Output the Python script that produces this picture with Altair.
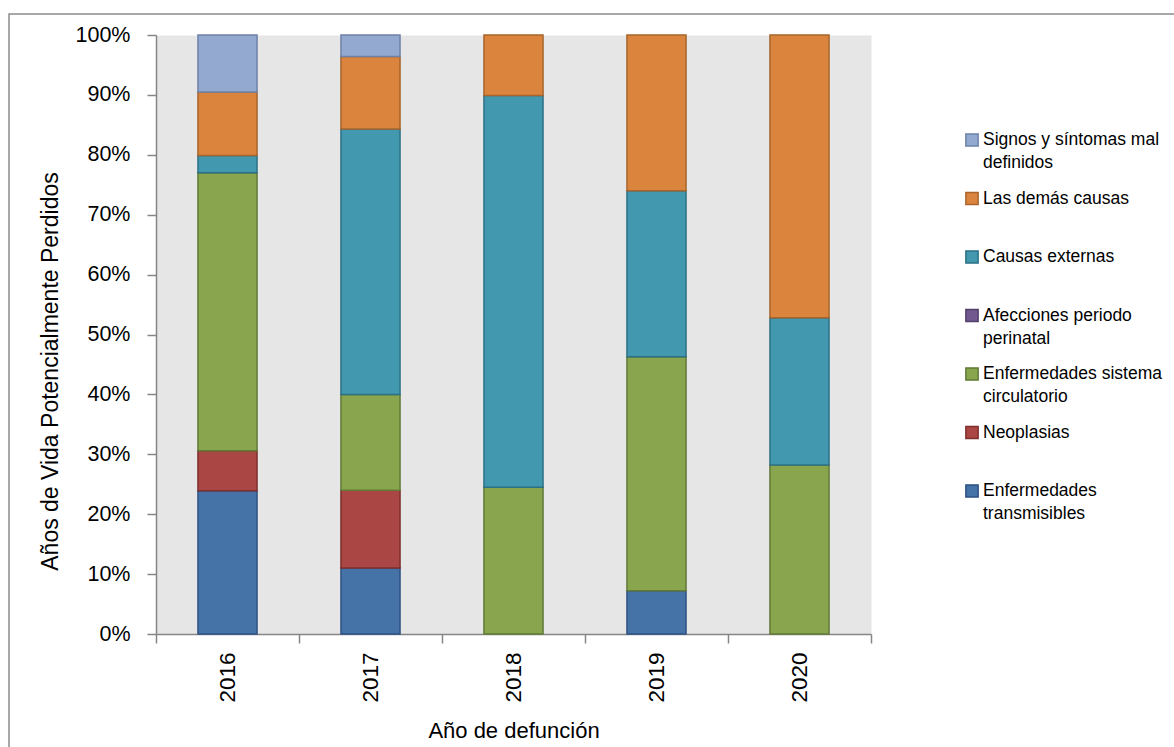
import altair as alt
import pandas as pd

# Years of potential life lost, share by cause group (percent of each year)
years = ["2016", "2017", "2018", "2019", "2020"]

causes = [
    "Enfermedades transmisibles",
    "Neoplasias",
    "Enfermedades sistema circulatorio",
    "Afecciones periodo perinatal",
    "Causas externas",
    "Las demás causas",
    "Signos y síntomas mal definidos",
]

transmisibles = [23.9, 11.0, 0.0, 7.2, 0.0]
neoplasias = [6.7, 13.0, 0.0, 0.0, 0.0]
circulatorio = [46.4, 16.0, 24.5, 39.1, 28.2]
perinatal = [0.0, 0.0, 0.0, 0.0, 0.0]
externas = [2.9, 44.3, 65.4, 27.7, 24.6]
demas = [10.6, 12.1, 10.1, 26.0, 47.2]
signos = [9.5, 3.6, 0.0, 0.0, 0.0]

fill_colors = ["#4572A7", "#AA4643", "#89A54E", "#71588F", "#4198AF", "#DB843D", "#93A9CF"]
edge_colors = ["#2E5283", "#7E2F2D", "#627A36", "#533F6C", "#2C7186", "#A8642B", "#6E82A8"]

# legend entries, top to bottom, with their wrapped labels
legend_order = causes[::-1]
legend_labels = [
    "Signos y síntomas mal\ndefinidos",
    "Las demás causas",
    "Causas externas",
    "Afecciones periodo\nperinatal",
    "Enfermedades sistema\ncirculatorio",
    "Neoplasias",
    "Enfermedades\ntransmisibles",
]

FONT = "Liberation Sans, Arial, sans-serif"

series = [transmisibles, neoplasias, circulatorio, perinatal, externas, demas, signos]
rows = []
for k, (cause, vals) in enumerate(zip(causes, series)):
    for year, v in zip(years, vals):
        rows.append({"year": year, "cause": cause, "order": k, "pct": v})
bars_df = pd.DataFrame(rows)

legend_df = pd.DataFrame({"cause": legend_order, "label": legend_labels})

fill_scale = alt.Scale(domain=causes, range=fill_colors)
edge_scale = alt.Scale(domain=causes, range=edge_colors)

bars = (
    alt.Chart(bars_df)
    .transform_filter("datum.pct > 0")
    .mark_bar(width=alt.RelativeBandSize(0.413), strokeWidth=1.5)
    .encode(
        x=alt.X(
            "year:N",
            sort=years,
            scale=alt.Scale(paddingInner=0, paddingOuter=0),
            axis=alt.Axis(
                title="Año de defunción",
                labelAngle=270,
                labelPadding=9,
                labelFontSize=22.5,
                tickBand="extent",
                titleFontSize=22,
                titleY=103,
                titleBaseline="alphabetic",
            ),
        ),
        y=alt.Y(
            "pct:Q",
            stack="normalize",
            scale=alt.Scale(domain=[0, 1], nice=False),
            axis=alt.Axis(
                title="Años de Vida Potencialmente Perdidos",
                format="%",
                values=[i / 10 for i in range(11)],
                labelFontSize=21.5,
                labelPadding=17,
                titleFontSize=23,
                titleX=-106,
                titleY=336,
                titleBaseline="middle",
                grid=False,
            ),
        ),
        color=alt.Color("cause:N", scale=fill_scale, legend=None),
        stroke=alt.Stroke("cause:N", scale=edge_scale, legend=None),
        order=alt.Order("order:Q"),
    )
)

legend_y = alt.Y(
    "cause:N",
    sort=legend_order,
    axis=None,
    scale=alt.Scale(type="point", range=[105, 456], padding=0),
)

legend_symbols = (
    alt.Chart(legend_df)
    .mark_square(size=150, strokeWidth=1.5, opacity=1)
    .encode(
        x=alt.value(816),
        y=legend_y,
        color=alt.Color("cause:N", scale=fill_scale, legend=None),
        stroke=alt.Stroke("cause:N", scale=edge_scale, legend=None),
    )
)

legend_text = (
    alt.Chart(legend_df)
    .mark_text(
        align="left",
        baseline="top",
        dy=-9,
        lineBreak="\n",
        lineHeight=23,
        fontSize=17.5,
        font=FONT,
        color="#000000",
    )
    .encode(x=alt.value(827), y=legend_y, text="label:N")
)

frame = (
    alt.Chart(alt.Data(values=[{"f": 1}]))
    .mark_rect(fillOpacity=0, stroke="#8c8c8c", strokeWidth=1.5)
    .encode(
        x=alt.value(-147),
        x2=alt.value(1030),
        y=alt.value(-21),
        y2=alt.value(730),
    )
)

chart = (
    alt.layer(frame, bars, legend_symbols, legend_text)
    .resolve_scale(y="independent")
    .properties(
        width=715,
        height=599,
        autosize=alt.AutoSizeParams(type="none"),
        padding={"left": 156, "top": 35, "right": 303, "bottom": 113},
        background="#ffffff",
    )
    .configure_view(fill="#e6e6e6", stroke="transparent")
    .configure_axis(
        labelFont=FONT,
        titleFont=FONT,
        labelColor="#000000",
        titleColor="#000000",
        titleFontWeight="normal",
        domainColor="#868686",
        tickColor="#868686",
        domainWidth=1.5,
        tickWidth=1.5,
        tickSize=9,
    )
)

chart.save("out.html", embed_options={"renderer": "svg", "actions": False})
